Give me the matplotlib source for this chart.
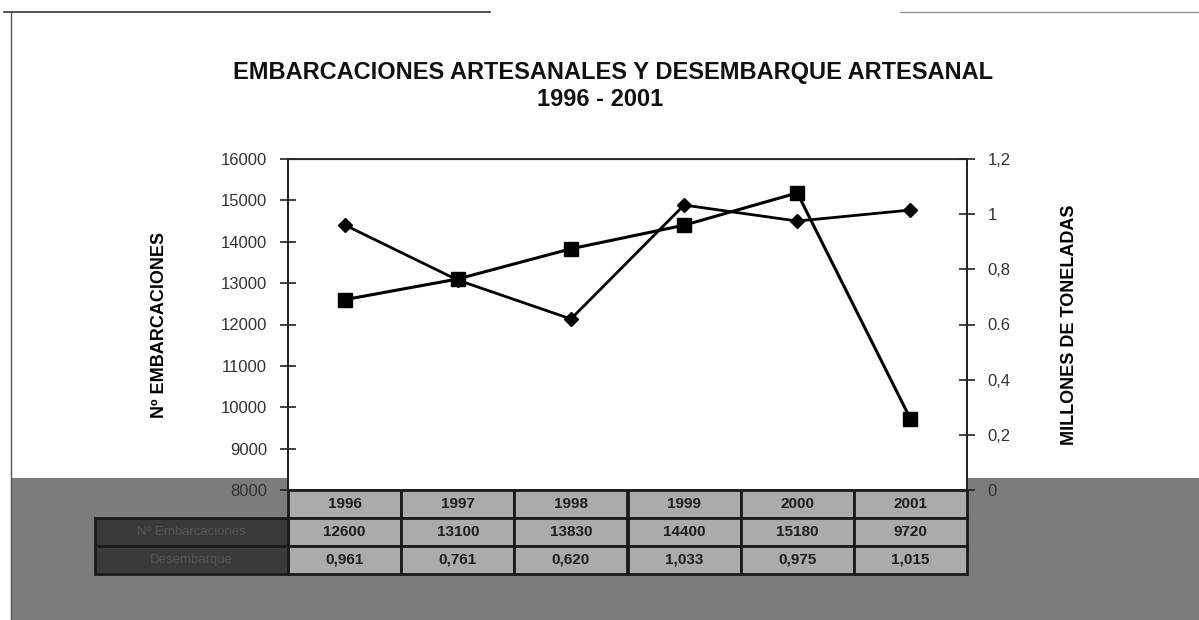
import matplotlib
matplotlib.use('Agg')
import matplotlib.pyplot as plt
from matplotlib.patches import Rectangle
from matplotlib.lines import Line2D
from matplotlib.transforms import blended_transform_factory

plt.rcParams['font.family'] = ['Liberation Sans', 'DejaVu Sans']

# datos
anios = ['1996', '1997', '1998', '1999', '2000', '2001']
embarcaciones = [12600, 13100, 13830, 14400, 15180, 9720]
desembarque = [0.961, 0.761, 0.620, 1.033, 0.975, 1.015]
ticks_izq = [8000, 9000, 10000, 11000, 12000, 13000, 14000, 15000, 16000]
ticks_der = [0, 0.2, 0.4, 0.6, 0.8, 1.0, 1.2]
etiquetas_der = ['0', '0,2', '0,4', '0.6', '0,8', '1', '1,2']
filas = ['Nº Embarcaciones', 'Desembarque']

W, H = 1199, 620
fig = plt.figure(figsize=(W / 100, H / 100), dpi=100)
fig.patch.set_facecolor('white')

# fondo gris del escaneo en la parte baja
fig.add_artist(Rectangle((12 / W, 0), 1, (H - 478) / H, transform=fig.transFigure,
                         facecolor='#7c7c7c', edgecolor='none', zorder=0))
# bordes del marco
fig.add_artist(Line2D([4 / W, 490 / W], [1 - 12 / H, 1 - 12 / H], color='#333333', lw=1.2))
fig.add_artist(Line2D([900 / W, 1], [1 - 12 / H, 1 - 12 / H], color='#999999', lw=1.0))
fig.add_artist(Line2D([11 / W, 11 / W], [0, 1 - 12 / H], color='#555555', lw=1.0))

x0, x1, ytop, ybot = 288, 967, 159, 490
ax = fig.add_axes([x0 / W, 1 - ybot / H, (x1 - x0) / W, (ybot - ytop) / H])
ax2 = ax.twinx()

xs = list(range(len(anios)))
ax.plot(xs, embarcaciones, color='black', lw=2.2, marker='s', markersize=10.5, zorder=3)
ax2.plot(xs, desembarque, color='black', lw=2.0, marker='D', markersize=7.5, zorder=3)

ax.set_xlim(-0.5, len(anios) - 0.5)
ax.set_xticks([])
ax.set_ylim(8000, 16000)
ax.set_yticks(ticks_izq)
ax.set_yticklabels([str(t) for t in ticks_izq])
ax2.set_ylim(0, 1.2)
ax2.set_yticks(ticks_der)
ax2.set_yticklabels(etiquetas_der)

for a in (ax, ax2):
    a.tick_params(axis='y', direction='inout', length=12, width=1.2, colors='#222222',
                  labelsize=12, pad=9, labelcolor='#333333')
    for s in a.spines.values():
        s.set_color('#222222')
        s.set_linewidth(1.3)
ax.spines['top'].set_color('#888888')
ax.spines['top'].set_linewidth(1.0)

ax.set_ylabel('Nº EMBARCACIONES', fontsize=13, fontweight='bold', labelpad=38)
ax2.set_ylabel('MILLONES DE TONELADAS', fontsize=13, fontweight='bold', labelpad=36)

fig.text(613 / W, 1 - 72 / H, 'EMBARCACIONES ARTESANALES Y DESEMBARQUE ARTESANAL',
         ha='center', va='center', fontsize=17, fontweight='bold', color='#111111')
fig.text(600 / W, 1 - 99 / H, '1996 - 2001', ha='center', va='center',
         fontsize=17, fontweight='bold', color='#111111')

# tabla de datos bajo el grafico
tr = blended_transform_factory(ax.transData, ax.transAxes)
alto = 28 / (ybot - ytop)
x_enc = (95 - x0) / ((x1 - x0) / len(anios)) - 0.5
filas_txt = [anios,
             [str(v) for v in embarcaciones],
             [f'{v:.3f}'.replace('.', ',') for v in desembarque]]
for r, fila in enumerate(filas_txt):
    yb = -alto * (r + 1)
    for i, txt in enumerate(fila):
        ax.add_patch(Rectangle((i - 0.5, yb), 1, alto, transform=tr, facecolor='#ababab',
                               edgecolor='#1a1a1a', lw=2.0, clip_on=False, zorder=1))
        ax.text(i, yb + alto / 2, txt, transform=tr, ha='center', va='center', fontsize=11,
                fontweight='bold', color='#1e1e1e', clip_on=False)
    if r > 0:
        ax.add_patch(Rectangle((x_enc, yb), -0.5 - x_enc, alto, transform=tr,
                               facecolor='#3a3a3a', edgecolor='#1a1a1a', lw=2.0,
                               clip_on=False, zorder=1))
        ax.text((x_enc - 0.5) / 2, yb + alto / 2, filas[r - 1], transform=tr, ha='center',
                va='center', fontsize=9.5, color='#555555', clip_on=False)

fig.savefig('out.png', dpi=100)
